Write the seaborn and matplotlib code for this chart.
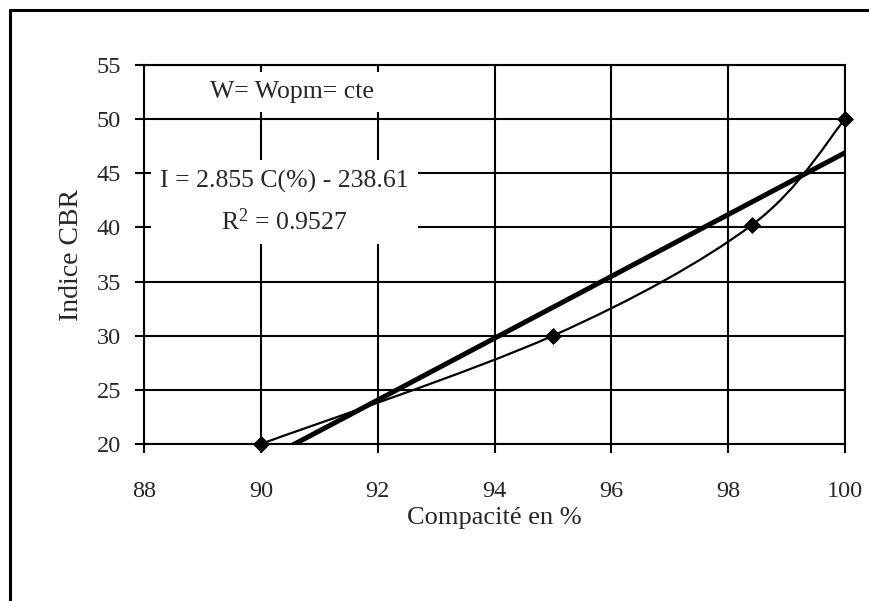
import matplotlib
matplotlib.use("Agg")
import matplotlib.pyplot as plt
import seaborn as sns
import numpy as np
import pandas as pd
from matplotlib.path import Path
from matplotlib.patches import PathPatch
from matplotlib.lines import Line2D

# data
compacite = [90, 95, 98.4, 100]
cbr = [20, 30, 40.2, 50]
x_ticks = [88, 90, 92, 94, 96, 98, 100]
y_ticks = [20, 25, 30, 35, 40, 45, 50, 55]
slope, intercept = 2.855, -238.61

df = pd.DataFrame({"C": compacite, "I": cbr})

sns.set_theme(style="white")
plt.rcParams["font.family"] = ["Liberation Serif", "DejaVu Serif"]

fig = plt.figure(figsize=(8.7, 6.01), dpi=100)
ax = fig.add_axes([144/870, 1-444/601, (845-144)/870, (444-65)/601])

# outer frame (top and left edges)
fig.add_artist(Line2D([10/870, 1.0], [1-10/601, 1-10/601], color="black", lw=2.2, transform=fig.transFigure))
fig.add_artist(Line2D([10/870, 10/870], [0, 1-10/601], color="black", lw=2.2, transform=fig.transFigure))

ax.set_xlim(88, 100)
ax.set_ylim(20, 55)
ax.set_xticks(x_ticks)
ax.set_yticks(y_ticks)
ax.grid(True, color="black", lw=1.5)
ax.set_axisbelow(True)
for s in ax.spines.values():
    s.set_color("black")
    s.set_linewidth(1.5)
ax.tick_params(axis="both", which="major", direction="out", length=6.5, width=1.5,
               color="black", labelsize=17.5, left=True, bottom=True)
ax.tick_params(axis="x", pad=20)
ax.tick_params(axis="y", pad=10)

# smoothed curve through points (Bezier, Excel-like smoothing)
P = np.column_stack([compacite, cbr]).astype(float)
n = len(P)
verts = [P[0]]
codes = [Path.MOVETO]
for i in range(n - 1):
    p_prev = P[i - 1] if i > 0 else P[i]
    p_next2 = P[i + 2] if i + 2 < n else P[i + 1]
    c1 = P[i] + (P[i + 1] - p_prev) / 6.0
    c2 = P[i + 1] - (p_next2 - P[i]) / 6.0
    verts += [c1, c2, P[i + 1]]
    codes += [Path.CURVE4] * 3
ax.add_patch(PathPatch(Path(verts, codes), facecolor="none", edgecolor="black", lw=1.6, zorder=3, clip_on=True))

# regression line
sns.regplot(data=df, x="C", y="I", ax=ax, ci=None, scatter=False, truncate=True,
            line_kws=dict(color="black", lw=3.6, zorder=4))

# points
sns.scatterplot(data=df, x="C", y="I", ax=ax, marker="D", s=64, color="black",
                edgecolor="black", zorder=5, clip_on=False)

ax.set_xlabel("Compacité en %", fontsize=19, labelpad=4)
ax.set_ylabel("Indice CBR", fontsize=20, labelpad=9)

ax.text(90.53, 52.5, "W= Wopm= cte", fontsize=18.5, ha="center", va="center", zorder=6,
        bbox=dict(boxstyle="square,pad=0.35", facecolor="white", edgecolor="none"))
ax.text(90.4, 42.3, "I = 2.855 C(%) - 238.61\n$\\mathregular{R^2}$ = 0.9527", fontsize=18.5,
        ha="center", va="center", linespacing=1.75, zorder=6,
        bbox=dict(boxstyle="square,pad=0.35", facecolor="white", edgecolor="none"))

fig.savefig("out.png", dpi=100)
